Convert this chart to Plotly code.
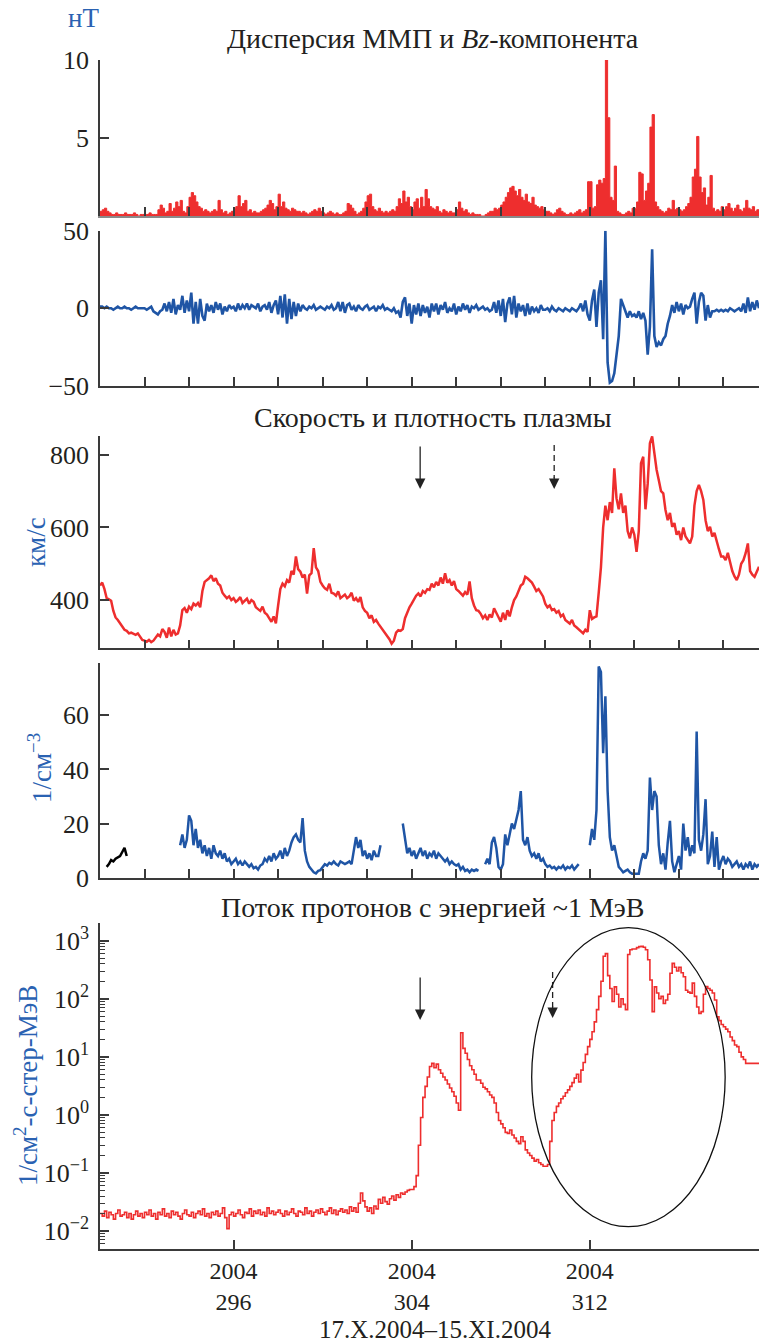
import plotly.graph_objects as go

# ---------------- data, 0.1-day sampling from day 290.0 ----------------
START_DAY = 290.0
STEP_DAY = 0.1
EARLY_DENSITY_START = 290.3

# IMF dispersion, nT
dispersion = (
    [0.3,0.4,0.5,0.3,0.2,0.1,0.1,0.2,0.1,0.1] +   # 290
    [0.1,0.2,0.1,0.1,0.1,0.2,0.1,0.0,0.1,0.1] +   # 291
    [0.1,0.1,0.2,0.1,0.1,0.1,0.4,0.7,0.5,0.2] +   # 292
    [0.3,0.8,0.3,0.5,0.9,0.6,1.0,0.3,0.2,0.6] +   # 293
    [1.2,1.5,1.3,0.9,0.6,0.5,0.3,0.4,0.3,0.2] +   # 294
    [0.3,0.4,0.3,1.0,0.4,0.2,0.3,0.1,0.2,0.3] +   # 295
    [0.5,0.6,1.3,0.6,0.8,1.0,0.3,0.4,0.2,0.3] +   # 296
    [0.2,0.2,0.3,0.4,0.5,0.7,1.0,0.8,0.4,0.6] +   # 297
    [1.4,0.6,0.9,0.5,0.4,0.3,0.5,0.4,0.3,0.3] +   # 298
    [0.2,0.3,0.2,0.1,0.2,0.3,0.4,0.3,0.5,0.3] +   # 299
    [0.2,0.1,0.2,0.3,0.2,0.1,0.2,0.1,0.1,0.2] +   # 300
    [0.3,0.8,0.7,0.5,0.3,0.1,0.2,0.3,0.5,0.9] +   # 301
    [1.3,1.4,0.6,0.4,0.3,0.5,0.3,0.2,0.3,0.2] +   # 302
    [0.3,0.4,0.3,0.6,1.1,0.8,1.6,0.9,1.2,0.6] +   # 303
    [0.4,0.9,1.1,0.5,1.2,0.6,1.7,1.1,0.6,0.5] +   # 304
    [0.4,0.6,0.3,0.2,0.4,0.3,0.2,0.3,0.2,0.2] +   # 305
    [0.4,0.9,0.5,0.3,0.4,0.2,0.1,0.2,0.1,0.1] +   # 306
    [0.1,0.0,0.0,0.1,0.2,0.3,0.3,0.5,0.4,0.5] +   # 307
    [0.7,0.9,1.2,1.5,1.8,1.9,1.6,1.3,1.7,1.2] +   # 308
    [1.0,1.4,0.9,0.8,1.2,0.7,0.6,0.5,0.6,0.4] +   # 309
    [0.3,0.3,0.2,0.1,0.2,0.4,0.5,0.3,0.2,0.1] +   # 310
    [0.1,0.2,0.1,0.2,0.3,0.4,0.2,0.3,0.4,2.2] +   # 311
    [2.2,0.5,0.6,2.0,2.3,2.1,2.4,10.0,6.3,1.2] +  # 312
    [1.0,3.2,0.3,0.2,0.1,0.1,0.2,0.3,0.2,0.5] +   # 313
    [0.5,0.9,2.8,2.7,1.0,1.6,2.1,5.7,6.5,0.9] +   # 314
    [0.6,0.4,0.3,0.2,0.3,0.5,0.4,1.0,0.4,0.5] +   # 315
    [0.4,0.3,0.4,0.6,0.8,1.2,2.5,3.0,5.1,2.5] +   # 316
    [1.5,1.8,0.7,1.2,2.6,0.5,0.3,0.4,0.3,0.6] +   # 317
    [0.4,0.6,0.8,0.5,0.3,0.5,0.7,0.4,0.3,0.5] +   # 318
    [1.0,0.5,0.4,0.6,0.3,0.4,0.3]                 # 319
)

# IMF Bz, nT
bz = (
    [1,1,0,1,0,0,-1,0,1,0] +
    [0,1,0,0,-1,0,1,0,0,0] +
    [0,-1,0,1,-2,-3,-4,-2,-1,3] +
    [-2,4,-3,6,-4,2,-1,8,-3,5] +
    [-2,10,-10,4,-10,6,-5,-8,3,-2] +
    [2,-3,4,-1,3,-4,1,-2,2,0] +
    [1,-2,3,-1,2,0,3,-1,2,1] +
    [0,3,-2,1,2,-1,4,-3,2,5] +
    [-4,8,-6,9,-10,6,-7,4,-5,3] +
    [-2,2,0,-1,1,0,2,-1,0,1] +
    [0,-1,1,0,2,-1,0,4,-2,4] +
    [-3,2,3,-1,1,-2,2,0,-1,1] +
    [2,-1,0,1,-2,1,0,2,-1,0] +
    [-1,-2,0,-3,-2,-6,4,7,-5,3] +
    [-10,2,-4,3,-5,2,-3,1,-6,3] +
    [-2,3,-4,2,-1,4,-3,0,-2,3] +
    [-4,1,-2,3,-1,2,-3,1,0,2] +
    [-1,0,1,-1,0,-2,-1,4,-3,5] +
    [-5,6,-9,3,7,-4,8,-6,3,-2] +
    [2,-5,3,-4,1,-2,0,-3,2,-1] +
    [-1,0,-2,1,-1,-2,0,-1,-2,0] +
    [-1,-2,0,-1,-2,0,3,-2,5,-4] +
    [-8,5,12,-12,10,18,-20,50,-35,-48] +
    [-47,-42,-30,-18,6,2,-3,-6,-2,-5] +
    [-4,-6,-2,-7,-3,-8,-30,-12,38,-18] +
    [-25,-22,-24,-20,-18,-10,-5,2,-3,4] +
    [-2,3,-4,2,0,1,6,10,-10,4] +
    [10,8,-8,2,-6,-2,-2,-1,-2,-1] +
    [-2,-1,-2,0,-1,-2,-1,0,-2,3] +
    [-3,7,-2,4,-1,5,0]
)

# solar-wind speed, km/s
speed = (
    [440,448,430,405,402,398,370,352,345,335] +
    [325,318,315,308,310,306,304,308,300,290] +
    [288,285,290,284,288,298,305,300,320,312] +
    [296,324,300,318,305,308,330,372,378,365] +
    [382,375,390,385,392,380,425,450,455,460] +
    [468,452,460,445,440,420,412,405,410,400] +
    [405,395,400,408,392,398,404,390,400,395] +
    [380,375,370,382,365,360,350,340,355,336] +
    [385,430,445,438,455,448,480,470,520,485] +
    [478,462,470,418,468,474,543,490,480,450] +
    [440,432,428,445,420,418,412,424,405,410] +
    [415,405,410,420,398,405,395,408,380,370] +
    [365,350,358,340,345,335,326,320,310,300] +
    [292,280,288,310,317,315,320,350,368,380] +
    [390,400,412,418,410,425,420,430,428,445] +
    [435,450,440,462,445,474,448,455,440,452] +
    [430,425,418,412,422,415,451,405,385,372] +
    [370,362,350,358,345,360,352,377,365,350] +
    [340,365,345,372,355,380,400,410,428,440] +
    [445,464,460,455,448,437,425,430,418,410] +
    [390,380,385,372,375,365,370,355,360,345] +
    [340,335,345,330,325,320,315,308,318,312] +
    [372,348,352,355,420,490,600,660,620,670] +
    [640,763,680,650,694,640,660,590,570,600] +
    [580,533,590,777,795,650,720,832,851,800] +
    [759,730,700,694,648,620,640,602,612,580] +
    [590,565,600,575,565,556,575,660,700,717] +
    [700,676,620,590,602,575,585,560,540,520] +
    [520,510,530,505,480,465,455,470,500,510] +
    [529,556,480,470,464,478,492]
)

N_ = None
# proton density, 1/cm^3 (None = no data)
density = (
    [N_]*10 + [N_]*10 + [N_]*10 +
    [N_,N_,N_,N_,N_,N_,12,16,11,14] +
    [23,21,12,18,11,14,9,12,8,11] +
    [7,12,9,8,10,7,9,6,7,5] +
    [6,7,5,6,4.5,6,5,4,5,3.5] +
    [4,3,4.5,5,7,6,8,6,9,7] +
    [8,10,7,11,8,10,13,15,16,14] +
    [13,22,10,6,4,3,2,1.6,2.5,2.8] +
    [4,5,4.5,5.5,5,6,5,4.5,6,5.5] +
    [5,5.5,6,5,10,15,11,14,8,10] +
    [7,9,6.5,10,8,8,12,N_,N_,N_] +
    [N_,N_,N_,N_,N_,N_,20,14,9,11] +
    [8,10,7,9,11,8,10,7,9,8] +
    [10,7,9,8,7,6,7,5,6,5] +
    [4.5,5,3,4,2.5,3,2,3,2.5,3] +
    [2.5,N_,N_,5,7,5,13,15,11,4] +
    [3,5,16,12,16,20,18,22,25,32] +
    [14,12,15,10,8,9,7,9,6,7] +
    [5,4,4.5,3.5,4,3,4,3.5,4.5,3] +
    [4,3.5,4.5,3,4,5,N_,N_,N_,N_] +
    [12,18,14,25,78,76,46,67,32,15] +
    [10,12,8,4,3,2,2.5,3,2,1.5] +
    [1.5,1.5,1.5,6,9,7,10,37,25,32] +
    [30,12,5,9,3,13,21,6,2,5] +
    [8,3,20,10,15,8,12,9,54,14] +
    [10,16,29,5,8,17,4,15,3,6] +
    [8,5,7,6,4,5,6,4,5,3] +
    [5,4,6,3,5,4,5]
)
density_early = [4,5,6.5,6,7,7.5,8,9.5,11,8]   # black segment from day 290.3

# ~1 MeV proton flux, 1/(cm2 s sr MeV)
flux = (
    [0.020,0.018,0.022,0.017,0.021,0.019,0.016,0.020,0.023,0.018] +
    [0.019,0.021,0.017,0.020,0.016,0.019,0.022,0.018,0.020,0.017] +
    [0.021,0.019,0.023,0.018,0.020,0.016,0.021,0.019,0.024,0.018] +
    [0.020,0.017,0.022,0.019,0.021,0.018,0.016,0.020,0.023,0.019] +
    [0.018,0.021,0.017,0.020,0.022,0.019,0.024,0.018,0.020,0.017] +
    [0.021,0.019,0.022,0.018,0.020,0.025,0.017,0.011,0.019,0.021] +
    [0.018,0.020,0.023,0.019,0.017,0.021,0.020,0.024,0.018,0.022] +
    [0.020,0.023,0.019,0.021,0.018,0.025,0.020,0.022,0.019,0.021] +
    [0.023,0.020,0.018,0.022,0.019,0.021,0.024,0.020,0.018,0.022] +
    [0.021,0.019,0.025,0.020,0.022,0.018,0.021,0.023,0.020,0.024] +
    [0.021,0.019,0.022,0.025,0.020,0.023,0.019,0.022,0.024,0.021] +
    [0.023,0.020,0.026,0.022,0.025,0.021,0.030,0.045,0.033,0.026] +
    [0.022,0.025,0.020,0.027,0.024,0.035,0.030,0.038,0.032,0.029] +
    [0.036,0.040,0.034,0.042,0.038,0.045,0.043,0.047,0.050,0.052] +
    [0.052,0.058,0.09,0.3,0.9,2.0,3.1,4.5,6.8,7.7] +
    [6.5,7.5,6.0,5.2,4.5,4.0,3.4,2.9,2.5,2.1] +
    [1.6,1.2,26,14,11.5,9,7,6,5,4] +
    [4,3.5,3.0,2.8,2.5,2.2,2.0,1.6,1.1,0.8] +
    [0.7,0.6,0.5,0.48,0.55,0.45,0.40,0.35,0.32,0.42] +
    [0.35,0.25,0.22,0.20,0.18,0.16,0.17,0.15,0.14,0.13] +
    [0.13,0.14,0.35,0.8,1.1,1.4,1.6,1.9,2.1,2.4] +
    [2.7,3.1,3.6,4.3,5.0,3.7,5.9,8,11,15] +
    [20,27,40,65,110,200,540,600,250,150] +
    [90,160,120,72,100,80,65,580,700,720] +
    [720,760,790,800,770,700,470,210,60,160] +
    [126,100,110,83,95,120,275,407,350,300] +
    [350,280,240,140,130,125,186,110,72,56] +
    [60,120,162,150,140,126,95,49,42,36] +
    [33,30,27,22,19,16,15,12,10,9] +
    [7.7,7.7,7.7,7.7,7.7,7.7,7.7]
)

x_range = [290.0, 319.6]
minor_x_ticks = list(range(292, 320, 2))
major_x_ticks = [296, 304, 312]
major_x_text = ["2004<br>296", "2004<br>304", "2004<br>312"]

# ---------------- styling ----------------
W, H = 759, 1344
RED = "#ee2e2e"
BLUE = "#1f55a5"
LBLUE = "#2a62b2"
TXT = "#231f20"
AX = "#3a3a3a"
FONT = "Liberation Serif"


def grid(n, start):
    return [round(start + STEP_DAY * i, 2) for i in range(n)]


def pv(px):
    return 1 - px / H


days = grid(len(dispersion), START_DAY)
days_early = grid(len(density_early), EARLY_DENSITY_START)

fig = go.Figure()
fig.add_trace(go.Scatter(x=days, y=dispersion, mode="lines", line=dict(color=RED, width=1, shape="hv"),
                         fill="tozeroy", fillcolor=RED, xaxis="x", yaxis="y", showlegend=False))
fig.add_trace(go.Scatter(x=days, y=bz, mode="lines", line=dict(color=BLUE, width=2.6, shape="linear"),
                         xaxis="x2", yaxis="y2", showlegend=False))
fig.add_trace(go.Scatter(x=days, y=speed, mode="lines", line=dict(color=RED, width=2.5, shape="linear"),
                         xaxis="x3", yaxis="y3", showlegend=False))
fig.add_trace(go.Scatter(x=days, y=density, mode="lines", line=dict(color=BLUE, width=2.5, shape="linear"),
                         connectgaps=False, xaxis="x4", yaxis="y4", showlegend=False))
fig.add_trace(go.Scatter(x=days_early, y=density_early, mode="lines",
                         line=dict(color="black", width=2.5, shape="linear"),
                         xaxis="x4", yaxis="y4", showlegend=False))
fig.add_trace(go.Scatter(x=days, y=flux, mode="lines", line=dict(color=RED, width=1.6, shape="hv"),
                         xaxis="x5", yaxis="y5", showlegend=False))

panels = [(216, 60), (385.7, 230.7), (648.3, 436), (877.7, 663.3), (1248.7, 923.3)]
tickfont = dict(family=FONT, size=26, color=TXT)

layout = dict(width=W, height=H, margin=dict(l=100, r=0, t=0, b=0, autoexpand=False),
              paper_bgcolor="white", plot_bgcolor="white", showlegend=False,
              font=dict(family=FONT, color=TXT))

for i, (bot, top) in enumerate(panels, start=1):
    sfx = "" if i == 1 else str(i)
    xa = dict(domain=[0, 1], anchor="y" + sfx, range=x_range, showline=True, automargin=False,
              linecolor="#8a8a8a" if i == 1 else AX, linewidth=1.5,
              ticks="inside", ticklen=9, tickwidth=1.5, tickcolor=AX,
              tickmode="array", tickvals=minor_x_ticks, showticklabels=False,
              showgrid=False, zeroline=False)
    if i > 1:
        xa["matches"] = "x"
    if i == 5:
        xa.update(tickvals=major_x_ticks, ticktext=major_x_text, showticklabels=True,
                  tickfont=dict(family=FONT, size=24, color=TXT), ticklabelstandoff=0)
    ya = dict(domain=[pv(bot), pv(top)], anchor="x" + sfx, showline=True, linecolor=AX,
              linewidth=1.5, ticks="inside", ticklen=9, tickwidth=1.5, tickcolor=AX, automargin=False,
              tickfont=tickfont, showgrid=False, zeroline=False, ticklabelstandoff=4)
    layout["xaxis" + sfx] = xa
    layout["yaxis" + sfx] = ya

layout["yaxis"].update(range=[0, 10], tickmode="array", tickvals=[5, 10])
layout["yaxis2"].update(range=[-50, 50], tickmode="array", tickvals=[-50, 0, 50],
                        ticktext=["\u221250", "0", "50"])
layout["yaxis3"].update(range=[267, 852], tickmode="array", tickvals=[400, 600, 800])
layout["yaxis4"].update(range=[0, 79.2], tickmode="array", tickvals=[0, 20, 40, 60])
minor_log = [k * 10.0 ** e for e in range(-3, 4) for k in range(2, 10)]
layout["yaxis5"].update(type="log", range=[-2.305, 3.3], tickmode="array",
                        tickvals=[0.01, 0.1, 1, 10, 100, 1000],
                        ticktext=["10<sup>\u22122</sup>", "10<sup>\u22121</sup>", "10<sup>0</sup>",
                                  "10<sup>1</sup>", "10<sup>2</sup>", "10<sup>3</sup>"],
                        minor=dict(ticks="inside", ticklen=5, tickwidth=1, tickcolor=AX,
                                   tickmode="array", tickvals=minor_log))

fig.update_layout(**layout)


def ann(text, xpx, ypx, size=28, color=TXT, angle=0, yanchor="middle"):
    fig.add_annotation(text=text, x=(xpx - 100) / 659, y=pv(ypx), xref="paper", yref="paper",
                       showarrow=False, xanchor="center", yanchor=yanchor, textangle=angle,
                       font=dict(family=FONT, size=size, color=color))


ann("Дисперсия ММП и <i>Bz</i>-компонента", 432.5, 38)
ann("Скорость и плотность плазмы", 433, 417)
ann("Поток протонов с энергией ~1 МэВ", 433, 907)
ann("нТ", 83, 18, size=27, color=LBLUE)
ann("км/с", 36, 542, size=27, color=LBLUE, angle=-90)
ann("1/см<sup>\u22123</sup>", 40, 768, size=27, color=LBLUE, angle=-90)
ann("1/см<sup>2</sup>-с-стер-МэВ", 26, 1086, size=27, color=LBLUE, angle=-90)
ann("17.X.2004\u201315.XI.2004", 434.5, 1345, size=25, yanchor="bottom")


def arrow(xday, xref, top_px, tip_px, dashed):
    if dashed:
        fig.add_shape(type="line", xref=xref, yref="paper", x0=xday, x1=xday,
                      y0=pv(top_px), y1=pv(tip_px - 11), line=dict(color="#222", width=1.3, dash="6px,4px"))
        fig.add_annotation(x=xday, y=pv(tip_px), xref=xref, yref="paper", ax=0, ay=-13, text="",
                           showarrow=True, arrowhead=2, arrowsize=1.6, arrowwidth=1.3, arrowcolor="#222")
    else:
        fig.add_annotation(x=xday, y=pv(tip_px), xref=xref, yref="paper", ax=0, ay=-(tip_px - top_px), text="",
                           showarrow=True, arrowhead=2, arrowsize=1.6, arrowwidth=1.3, arrowcolor="#222")


arrow(304.38, "x3", 445, 489, False)
arrow(310.4, "x3", 445, 489, True)
arrow(304.38, "x5", 976, 1020, False)
arrow(310.33, "x5", 972, 1018, True)

# ellipse marking the event (log axis: data values)
fig.add_shape(type="circle", xref="x5", yref="y5", x0=309.39, x1=318.08,
              y0=10 ** -1.926, y1=10 ** 3.224, line=dict(color="#111", width=1.3))

fig.write_html("out.html")
